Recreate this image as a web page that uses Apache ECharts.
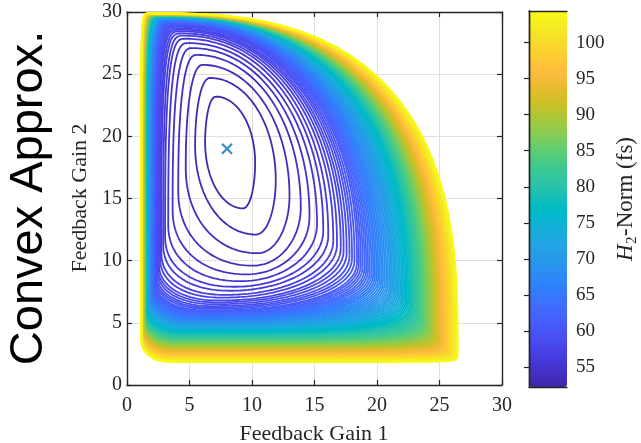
<!DOCTYPE html>
<html><head><meta charset="utf-8">
<script src="https://cdn.jsdelivr.net/npm/echarts@6/dist/echarts.min.js"></script>
<style>html,body{margin:0;padding:0;background:#fff}#c{width:641px;height:443px}</style>
</head><body><div id="c"></div>
<script>
// ---- data ----
// contour levels (H2-norm, fs)
const levels=[52.7,53.2,53.7,54.2,54.7,55.2,55.7,56.2,56.7,57.2,
57.7,58.2,58.7,59.2,59.7,60.2,60.7,61.2,61.7,62.2,
62.7,63.2,63.7,64.2,64.7,65.2,65.7,66.2,66.7,67.2,
67.7,68.2,68.7,69.2,69.7,70.2,70.7,71.2,71.7,72.2,
72.7,73.2,73.7,74.2,74.7,75.2,75.7,76.2,76.7,77.2,
77.7,78.2,78.7,79.2,79.7,80.2,80.7,81.2,81.7,82.2,
82.7,83.2,83.7,84.2,84.7,85.2,85.7,86.2,86.7,87.2,
87.7,88.2,88.7,89.2,89.7,90.2,90.7,91.2,91.7,92.2,
92.7,93.2,93.7,94.2,94.7,95.2,95.7,96.2,96.7,97.2,
97.7,98.2,98.7,99.2,99.7,100.2,100.7,101.2,101.7,102.2,
102.7,103.2,103.7,104.2];
// extent of each contour: smallest / largest Feedback Gain 1, smallest / largest Feedback Gain 2
const leftX=[6.25,5.45,4.7,4.1,3.65,3.3,3.05,2.9,2.75,2.65,
2.55,2.48,2.42,2.35,2.3,2.25,2.2,2.16,2.13,2.09,
2.05,2.02,2.0,1.97,1.95,1.92,1.9,1.88,1.86,1.84,
1.82,1.8,1.78,1.76,1.74,1.72,1.71,1.69,1.68,1.66,
1.65,1.63,1.62,1.6,1.59,1.57,1.56,1.54,1.53,1.51,
1.5,1.49,1.48,1.47,1.47,1.46,1.45,1.44,1.43,1.42,
1.42,1.41,1.4,1.39,1.38,1.37,1.36,1.36,1.35,1.34,
1.33,1.32,1.32,1.31,1.3,1.3,1.29,1.28,1.28,1.27,
1.27,1.26,1.25,1.25,1.24,1.23,1.23,1.22,1.21,1.21,
1.2,1.19,1.19,1.18,1.18,1.17,1.16,1.16,1.15,1.14,
1.14,1.13,1.13,1.12];
const rightX=[10.25,11.9,13.0,13.9,14.6,15.2,15.7,16.1,16.5,16.8,
17.1,17.33,17.57,17.8,18.0,18.2,18.4,18.55,18.7,18.85,
19.0,19.14,19.28,19.42,19.56,19.7,19.83,19.96,20.09,20.22,
20.35,20.48,20.61,20.74,20.87,21.0,21.11,21.21,21.32,21.43,
21.53,21.64,21.75,21.85,21.96,22.07,22.17,22.28,22.39,22.49,
22.6,22.68,22.76,22.84,22.92,23.0,23.08,23.16,23.24,23.32,
23.4,23.48,23.56,23.64,23.72,23.8,23.88,23.96,24.04,24.12,
24.2,24.27,24.34,24.41,24.48,24.55,24.62,24.69,24.76,24.83,
24.9,24.97,25.04,25.11,25.18,25.25,25.32,25.39,25.46,25.53,
25.6,25.67,25.73,25.8,25.86,25.93,25.99,26.06,26.12,26.19,
26.25,26.32,26.38,26.45];
const bottomY=[14.2,12.1,10.6,9.6,8.9,8.35,7.9,7.58,7.25,7.03,
6.8,6.65,6.5,6.35,6.23,6.12,6.0,5.93,5.85,5.78,
5.7,5.64,5.58,5.51,5.45,5.39,5.33,5.28,5.22,5.16,
5.1,5.05,5.0,4.95,4.9,4.85,4.8,4.75,4.7,4.65,
4.6,4.55,4.51,4.46,4.41,4.37,4.32,4.27,4.23,4.18,
4.13,4.09,4.04,3.99,3.95,3.9,3.85,3.81,3.76,3.71,
3.67,3.62,3.57,3.53,3.48,3.43,3.39,3.34,3.29,3.25,
3.2,3.16,3.11,3.07,3.03,2.98,2.94,2.9,2.85,2.81,
2.77,2.72,2.68,2.64,2.59,2.55,2.51,2.47,2.43,2.39,
2.35,2.31,2.27,2.23,2.19,2.15,2.11,2.08,2.04,2.0,
1.96,1.93,1.89,1.85];
const topY=[23.2,24.7,25.75,26.55,27.1,27.5,27.85,28.1,28.28,28.45,
28.57,28.68,28.8,28.86,28.93,28.99,29.05,29.09,29.13,29.16,
29.2,29.23,29.26,29.29,29.32,29.35,29.37,29.38,29.4,29.42,
29.44,29.45,29.47,29.49,29.5,29.52,29.53,29.54,29.55,29.56,
29.57,29.58,29.59,29.6,29.6,29.61,29.62,29.63,29.64,29.65,
29.66,29.67,29.67,29.68,29.68,29.69,29.69,29.7,29.7,29.71,
29.72,29.72,29.73,29.73,29.74,29.74,29.75,29.75,29.76,29.76,
29.77,29.77,29.78,29.78,29.79,29.79,29.79,29.8,29.8,29.81,
29.81,29.81,29.82,29.82,29.83,29.83,29.83,29.84,29.84,29.85,
29.85,29.85,29.86,29.86,29.87,29.87,29.87,29.88,29.88,29.89,
29.89,29.89,29.9,29.9];
const minPoint=[8,19];
const cbTicks=[55,60,65,70,75,80,85,90,95,100];
const cbRange=[52.2,104.4];

// ---- parula colour map ----
const PARULA=[[0.2422,0.1504,0.6603],[0.2504,0.1650,0.7076],[0.2578,0.1818,0.7511],[0.2647,0.1978,0.7952],[0.2706,0.2147,0.8364],[0.2751,0.2342,0.8710],[0.2783,0.2559,0.8991],[0.2803,0.2782,0.9221],[0.2813,0.3006,0.9414],[0.2810,0.3228,0.9579],[0.2795,0.3447,0.9717],[0.2760,0.3667,0.9829],[0.2699,0.3892,0.9906],[0.2602,0.4123,0.9952],[0.2440,0.4358,0.9988],[0.2206,0.4603,0.9973],[0.1963,0.4847,0.9892],[0.1834,0.5074,0.9798],[0.1786,0.5289,0.9682],[0.1764,0.5499,0.9520],[0.1687,0.5703,0.9359],[0.1540,0.5902,0.9218],[0.1460,0.6091,0.9079],[0.1380,0.6276,0.8973],[0.1248,0.6459,0.8883],[0.1113,0.6635,0.8763],[0.0952,0.6798,0.8598],[0.0689,0.6948,0.8394],[0.0297,0.7082,0.8163],[0.0036,0.7203,0.7917],[0.0067,0.7312,0.7660],[0.0433,0.7411,0.7394],[0.0964,0.7500,0.7120],[0.1408,0.7584,0.6842],[0.1717,0.7670,0.6554],[0.1938,0.7758,0.6251],[0.2161,0.7843,0.5923],[0.2470,0.7918,0.5567],[0.2906,0.7973,0.5188],[0.3406,0.8008,0.4789],[0.3909,0.8029,0.4354],[0.4456,0.8024,0.3909],[0.5044,0.7993,0.3480],[0.5616,0.7942,0.3045],[0.6174,0.7876,0.2612],[0.6720,0.7793,0.2227],[0.7242,0.7698,0.1910],[0.7738,0.7598,0.1646],[0.8203,0.7498,0.1535],[0.8634,0.7406,0.1596],[0.9035,0.7330,0.1774],[0.9393,0.7288,0.2100],[0.9728,0.7298,0.2394],[0.9956,0.7434,0.2371],[0.9970,0.7659,0.2199],[0.9952,0.7893,0.2028],[0.9892,0.8136,0.1885],[0.9786,0.8386,0.1766],[0.9676,0.8639,0.1643],[0.9610,0.8890,0.1537],[0.9597,0.9135,0.1423],[0.9628,0.9373,0.1265],[0.9691,0.9606,0.1064],[0.9769,0.9839,0.0805]];
const hex=c=>'#'+c.map(v=>Math.round(v*255).toString(16).padStart(2,'0')).join('');
const PHEX=PARULA.map(hex);
function colorOf(v){let f=(v-cbRange[0])/(cbRange[1]-cbRange[0])*63;f=Math.max(0,Math.min(63,f));const i=Math.min(62,Math.floor(f)),r=f-i;const a=PARULA[i],b=PARULA[i+1];return hex([0,1,2].map(j=>a[j]+(b[j]-a[j])*r));}

// ---- closed contour outline from its four extents (four rounded quarter arcs) ----
function arc(pts,cx,cy,a,b,n,sx,sy,t0,t1){const N=80;for(let i=0;i<N;i++){const th=t0+(t1-t0)*i/N;const c=Math.abs(Math.cos(th)),s=Math.abs(Math.sin(th));pts.push([cx+sx*a*Math.pow(c,2/n),cy+sy*b*Math.pow(s,2/n)]);}}
function outline(xL,xR,yB,yT,t){
  const g=(c,w)=>t<=c?1:Math.exp(-Math.pow((t-c)/w,2));
  const al=.21+(.04-.21)*t;
  const be=.08+(.76-.08)*g(.15,.45);
  const ga=.07+(.59-.07)*g(.1,.35);
  const de=.05+.36*(1-t);
  const xTop=xL+(xR-xL)*al,xBot=xL+(xR-xL)*be,yLft=yB+(yT-yB)*ga,yRgt=yB+(yT-yB)*de;
  const nTR=2+0.7*t*t*t,nTL=2+8*t*t*t,nBL=2+0.4*t,nBR=2+14*Math.pow(t,10);
  const p=[];
  arc(p,xTop,yRgt,xR-xTop,yT-yRgt,nTR,1,1,0,Math.PI/2);
  arc(p,xTop,yLft,xTop-xL,yT-yLft,nTL,-1,1,Math.PI/2,0);
  arc(p,xBot,yLft,xBot-xL,yLft-yB,nBL,-1,-1,0,Math.PI/2);
  arc(p,xBot,yRgt,xR-xBot,yRgt-yB,nBR,1,-1,Math.PI/2,0);
  p.push(p[0]);return p;
}
const series=[];
const nL=levels.length;
for(let k=0;k<nL;k++){
  const t=(bottomY[0]-bottomY[k])/(bottomY[0]-bottomY[nL-1]);
  series.push({type:'line',name:String(levels[k]),data:outline(leftX[k],rightX[k],bottomY[k],topY[k],t),showSymbol:false,silent:true,
    lineStyle:{color:colorOf(levels[k]),width:1.8},z:2,animation:false});
}
series.push({type:'scatter',data:[minPoint],symbol:'path://M0 0L10 10M10 0L0 10',symbolSize:10,
  itemStyle:{color:'rgba(0,0,0,0)',borderColor:'#0072BD',borderWidth:2.2},z:5,silent:true});
series.push({type:'scatter',data:[],xAxisIndex:2,yAxisIndex:2});
const dummyIdx=series.length-1;

const AX='#262626',SERIF='"Liberation Serif","Times New Roman",serif';
const baseAx={axisLine:{show:true,onZero:false,lineStyle:{color:AX,width:1.4}},axisTick:{show:true,inside:true,length:5,lineStyle:{color:AX,width:1.2}},
  axisLabel:{show:false},splitLine:{show:false}};
const chart=echarts.init(document.getElementById('c'),null,{renderer:'canvas'});
chart.setOption({
  animation:false,
  grid:[{left:127,top:12,width:375,height:373,show:false},{left:529,top:11,width:38,height:376,show:false}],
  xAxis:[
    Object.assign({},baseAx,{type:'value',gridIndex:0,position:'bottom',min:0,max:30,interval:5,
      axisLabel:{show:true,fontFamily:SERIF,fontSize:20,color:AX,margin:11},splitLine:{show:true,lineStyle:{color:'#dfdfdf',width:1}}}),
    Object.assign({},baseAx,{type:'value',gridIndex:0,position:'top',min:0,max:30,interval:5}),
    {type:'value',gridIndex:1,position:'bottom',min:0,max:1,axisLine:{show:true,lineStyle:{color:AX,width:1.4}},axisTick:{show:false},axisLabel:{show:false},splitLine:{show:false},z:10},
    {type:'value',gridIndex:1,position:'top',min:0,max:1,axisLine:{show:true,lineStyle:{color:AX,width:1.4}},axisTick:{show:false},axisLabel:{show:false},splitLine:{show:false},z:10}
  ],
  yAxis:[
    Object.assign({},baseAx,{type:'value',gridIndex:0,position:'left',min:0,max:30,interval:5,
      axisLabel:{show:true,fontFamily:SERIF,fontSize:20,color:AX,margin:5},splitLine:{show:true,lineStyle:{color:'#dfdfdf',width:1}}}),
    Object.assign({},baseAx,{type:'value',gridIndex:0,position:'right',min:0,max:30,interval:5}),
    {type:'value',gridIndex:1,position:'right',min:cbRange[0],max:cbRange[1],axisLine:{show:true,lineStyle:{color:AX,width:1.4}},
      axisTick:{show:true,inside:true,length:5,customValues:cbTicks,lineStyle:{color:AX,width:1.2}},
      axisLabel:{show:true,customValues:cbTicks,fontFamily:SERIF,fontSize:19,color:AX,margin:9},splitLine:{show:false},z:10},
    {type:'value',gridIndex:1,position:'left',min:cbRange[0],max:cbRange[1],axisLine:{show:true,lineStyle:{color:AX,width:1.4}},axisTick:{show:false},axisLabel:{show:false},splitLine:{show:false},z:10}
  ],
  visualMap:{type:'continuous',min:cbRange[0],max:cbRange[1],left:529,top:11,itemWidth:38,itemHeight:376,calculable:false,
    padding:0,inRange:{color:PHEX},seriesIndex:[dummyIdx],hoverLink:false,z:1},
  series:series,
  graphic:[
    {type:'text',x:29,y:198,rotation:Math.PI/2,style:{text:'Convex Approx.',font:'47px "Liberation Sans",Arial,sans-serif',fill:'#000',textAlign:'center',textVerticalAlign:'middle'}},
    {type:'text',x:314,y:434,style:{text:'Feedback Gain 1',font:'22px '+SERIF,fill:AX,textAlign:'center',textVerticalAlign:'middle'}},
    {type:'text',x:80,y:198,rotation:Math.PI/2,style:{text:'Feedback Gain 2',font:'22px '+SERIF,fill:AX,textAlign:'center',textVerticalAlign:'middle'}},
    {type:'group',x:626,y:199,rotation:Math.PI/2,children:[
      {type:'text',x:-62,y:0,style:{text:'H',font:'italic 23px '+SERIF,fill:AX,textAlign:'left',textVerticalAlign:'middle'}},
      {type:'text',x:-45,y:6,style:{text:'2',font:'15px '+SERIF,fill:AX,textAlign:'left',textVerticalAlign:'middle'}},
      {type:'text',x:-37,y:0,style:{text:'-Norm (fs)',font:'23px '+SERIF,fill:AX,textAlign:'left',textVerticalAlign:'middle'}}
    ]}
  ]
});
</script></body></html>
